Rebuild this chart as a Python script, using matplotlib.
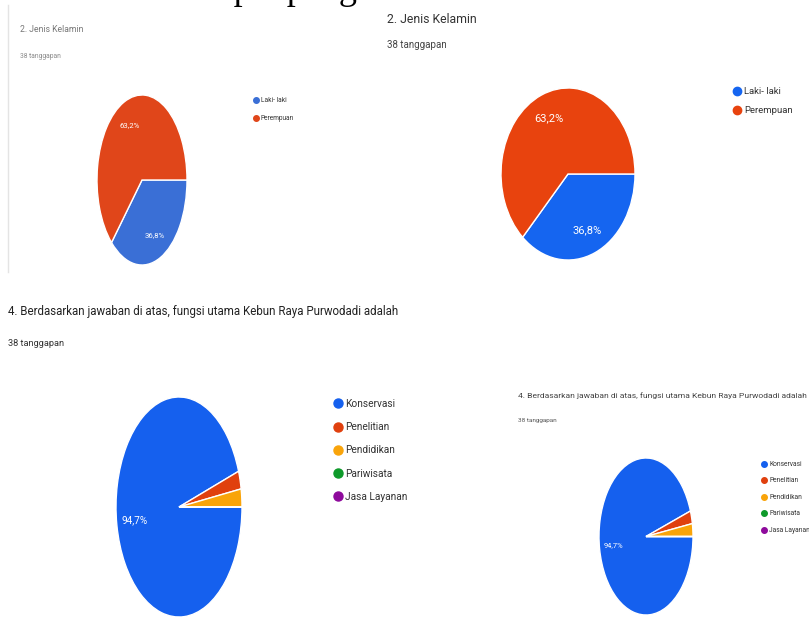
import matplotlib.pyplot as plt
from matplotlib.lines import Line2D
from matplotlib.transforms import Bbox

plt.rcParams['font.family'] = ['Roboto', 'DejaVu Sans']

# Data
gender_labels = ['Laki- laki', 'Perempuan']
gender_counts = [14, 24]
func_labels = ['Konservasi', 'Penelitian', 'Pendidikan', 'Pariwisata', 'Jasa Layanan']
func_counts = [36, 1, 1, 0, 0]
n_resp = 38

W, H = 809, 636
fig = plt.figure(figsize=(W / 100, H / 100), dpi=100)


def px_axes(x0, y0, x1, y1):
    return fig.add_axes([x0 / W, 1 - y1 / H, (x1 - x0) / W, (y1 - y0) / H])


def ftext(x, y, s, va='top', **kw):
    return fig.text(x / W, 1 - y / H, s, va=va, ha='left', **kw)


def pct_fmt(p):
    return f'{p:.1f}%'.replace('.', ',') if p > 5 else ''


def draw_pie(box, values, colors, fsize):
    ax = px_axes(*box)
    ax.pie(values, colors=colors, startangle=0, counterclock=False,
           autopct=pct_fmt, pctdistance=0.71,
           wedgeprops=dict(edgecolor='white', linewidth=1),
           textprops=dict(color='white', fontsize=fsize))
    ax.set_aspect('auto')
    ax.set_xlim(-1.0, 1.0)
    ax.set_ylim(-1.0, 1.0)
    return ax


def draw_legend(x, y, labels, colors, fsize, msize, spacing):
    handles = [Line2D([], [], marker='o', ls='', color=c, markersize=msize)
               for c in colors]
    fig.legend(handles, labels, loc='upper left',
               bbox_to_anchor=(x / W, 1 - y / H), bbox_transform=fig.transFigure,
               frameon=False, fontsize=fsize, handlelength=0.7,
               handletextpad=0.35, labelspacing=spacing,
               borderpad=0, borderaxespad=0, labelcolor='#333333')


# clipped serif line at the very top (only the lower part is visible)
t = ftext(170, -1, 'Tempat pengisian', va='baseline', family='Liberation Serif',
          fontsize=26, color='black')
t.set_clip_box(Bbox.from_extents(0, 0, 376, H))
t.set_clip_on(True)

# panel 1 (faded screenshot)
fig.add_artist(Line2D([8 / W, 8 / W], [1 - 5 / H, 1 - 272 / H],
                      color='#e4e4e4', lw=1))
ftext(20, 25, '2. Jenis Kelamin', fontsize=6.2, color='#777777')
ftext(20, 53, f'{n_resp} tanggapan', fontsize=4.8, color='#888888')
draw_pie((97, 95, 187, 265), gender_counts, ['#3a6fd6', '#e0461a'], 5.6)
draw_legend(254, 97, gender_labels, ['#3a6fd6', '#e0461a'], 4.7, 4, 1.75)

# panel 2
ftext(387, 13, '2. Jenis Kelamin', fontsize=8.8, color='#333333')
ftext(387, 40, f'{n_resp} tanggapan', fontsize=7, color='#444444')
draw_pie((501, 88, 635, 260), gender_counts, ['#1565f0', '#e8430e'], 8)
draw_legend(734, 87, gender_labels, ['#1565f0', '#e8430e'], 6.8, 6, 1.1)

func_colors = ['#1560ee', '#e0400e', '#f9a40a', '#0e9a2a', '#8e0a9c']

# panel 3
ftext(8, 305, '4. Berdasarkan jawaban di atas, fungsi utama Kebun Raya Purwodadi adalah',
      fontsize=8.3, color='#222222')
ftext(8, 339, f'{n_resp} tanggapan', fontsize=6.6, color='#333333')
draw_pie((116, 397, 242, 617), func_counts, func_colors, 7.2)
draw_legend(334, 399, func_labels, func_colors, 7.3, 6.5, 1.3)

# panel 4
ftext(518, 392, '4. Berdasarkan jawaban di atas, fungsi utama Kebun Raya Purwodadi adalah',
      fontsize=6.1, color='#444444')
ftext(518, 418, f'{n_resp} tanggapan', fontsize=4.6, color='#555555')
draw_pie((599, 458, 693, 615), func_counts, func_colors, 5.4)
draw_legend(762, 461, func_labels, func_colors, 4.8, 4, 1.42)

fig.savefig('out.png', dpi=100)
